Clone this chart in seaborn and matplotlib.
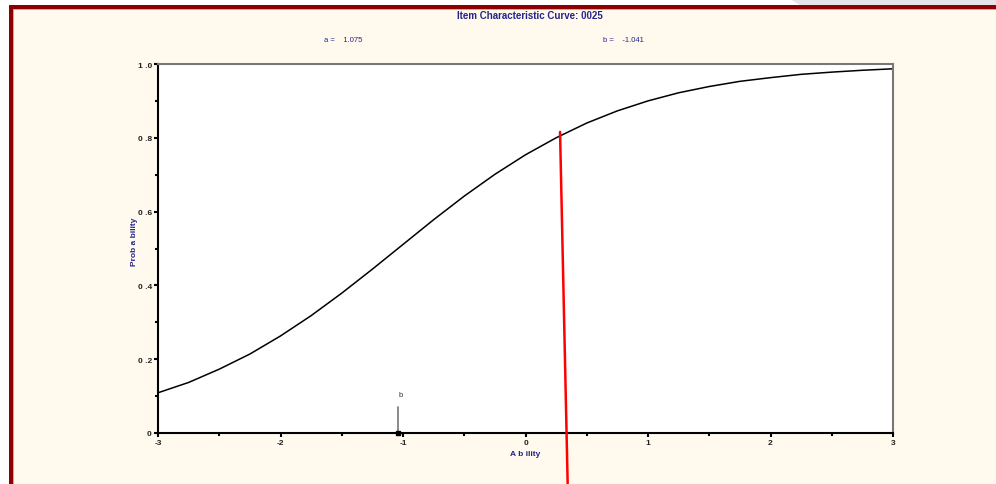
import numpy as np
import pandas as pd
import matplotlib
matplotlib.use("Agg")
import matplotlib.pyplot as plt
import seaborn as sns
from matplotlib.patches import Rectangle, Polygon

# item parameters shown on the chart
item_id = "0025"
a_param = 1.075
b_param = -1.041

# curve values
ability = [-3.0, -2.75, -2.5, -2.25, -2.0, -1.75, -1.5, -1.25, -1.0, -0.75, -0.5, -0.25,
           0.0, 0.25, 0.5, 0.75, 1.0, 1.25, 1.5, 1.75, 2.0, 2.25, 2.5, 2.75, 3.0]
probability = [0.109, 0.137, 0.173, 0.214, 0.263, 0.318, 0.379, 0.444, 0.511, 0.578, 0.642, 0.701,
               0.754, 0.800, 0.840, 0.873, 0.900, 0.922, 0.939, 0.953, 0.963, 0.972, 0.978, 0.983, 0.987]

# red marker line (runs past the bottom of the plot)
red_theta = [0.282, 0.345]
red_prob = [0.816, -0.15]

# "b" pointer
b_pointer_prob = [0.0, 0.07]
b_label_prob = 0.105

x_ticks = [-3, -2, -1, 0, 1, 2, 3]
y_ticks = [0.0, 0.2, 0.4, 0.6, 0.8, 1.0]
y_tick_labels = ["0", "0 .2", "0 .4", "0 .6", "0 .8", "1 .0"]

sns.set_style("white")
plt.rcParams['font.family'] = ['Liberation Sans', 'DejaVu Sans']

navy = "#24248a"
cream = "#fff9ee"
W, H = 996, 485

fig = plt.figure(figsize=(W / 100, H / 100), dpi=100, facecolor=cream)


def px_rect(x0, y0, x1, y1, color):
    # rectangle given in pixel coordinates (top-left origin)
    fig.patches.append(Rectangle((x0 / W, 1 - y1 / H), (x1 - x0) / W, (y1 - y0) / H,
                                 transform=fig.transFigure, color=color, zorder=0, lw=0))


# window frame around the chart
px_rect(0, 0, 9, H, "white")
px_rect(0, 0, W, 6, "white")
fig.patches.append(Polygon([(790 / W, 1), (1, 1), (1, 1 - 6 / H), (800 / W, 1 - 6 / H)],
                           closed=True, transform=fig.transFigure, color="#e4e4ea", zorder=0, lw=0))
px_rect(9, 6, 12.5, H, "#8b0000")
px_rect(9, 6, W, 9.5, "#8b0000")
px_rect(12.5, 9.5, 13.5, H, "#e39a8c")
px_rect(12.5, 9.5, W, 10.5, "#e39a8c")

ax = fig.add_axes([158 / W, 1 - 434 / H, (893 - 158) / W, (434 - 65) / H])
ax.set_facecolor("white")

df = pd.DataFrame({"Ability": ability, "Probability": probability})
sns.lineplot(data=df, x="Ability", y="Probability", ax=ax, color="black", lw=1.1)

ax.plot(red_theta, red_prob, color="#ff0000", lw=1.8, clip_on=False, zorder=5)

ax.plot([b_param, b_param], b_pointer_prob, color="#777777", lw=1.2, zorder=4)
ax.plot([b_param], [0.0], marker="s", ms=2.5, color="black", zorder=6, clip_on=False)
ax.text(b_param + 0.02, b_label_prob, "b", ha="center", va="center", fontsize=5.5, color="#333333")

ax.set_xlim(-3, 3)
ax.set_ylim(0, 1)
ax.set_xticks(x_ticks)
ax.set_xticklabels([str(t) for t in x_ticks])
ax.set_yticks(y_ticks)
ax.set_yticklabels(y_tick_labels)
ax.set_xticks(np.arange(-2.5, 3, 1.0), minor=True)
ax.set_yticks(np.arange(0.1, 1.0, 0.2), minor=True)
ax.tick_params(axis="both", which="both", bottom=True, left=True, top=False, right=False)
ax.tick_params(axis="both", which="major", direction="out", length=3, width=1.5,
               labelsize=6, pad=1.5, colors="black", labelcolor="#222222")
ax.tick_params(axis="both", which="minor", direction="out", length=2, width=1.5, colors="black")
for lab in ax.get_xticklabels() + ax.get_yticklabels():
    lab.set_fontweight("bold")

ax.set_xlabel("A b ility", fontsize=6, fontweight="bold", color=navy, labelpad=3)
ax.set_ylabel("Prob a bility", fontsize=6, fontweight="bold", color=navy, labelpad=0)
ax.yaxis.set_label_coords(-0.027, 0.52)

for side in ["left", "bottom"]:
    ax.spines[side].set_color("black")
    ax.spines[side].set_linewidth(1.5)
for side in ["top", "right"]:
    ax.spines[side].set_color("#777777")
    ax.spines[side].set_linewidth(1.5)

fig.text(530 / W, 1 - 16 / H, f"Item Characteristic Curve: {item_id}", ha="center", va="center",
         fontsize=7, fontweight="bold", color=navy)
fig.text(343 / W, 1 - 41 / H, f"a =    {a_param:.3f}", ha="center", va="center",
         fontsize=5.5, color=navy)
fig.text(623 / W, 1 - 41 / H, f"b =    {b_param:.3f}", ha="center", va="center",
         fontsize=5.5, color=navy)

fig.savefig("out.png", dpi=100, facecolor=cream)
